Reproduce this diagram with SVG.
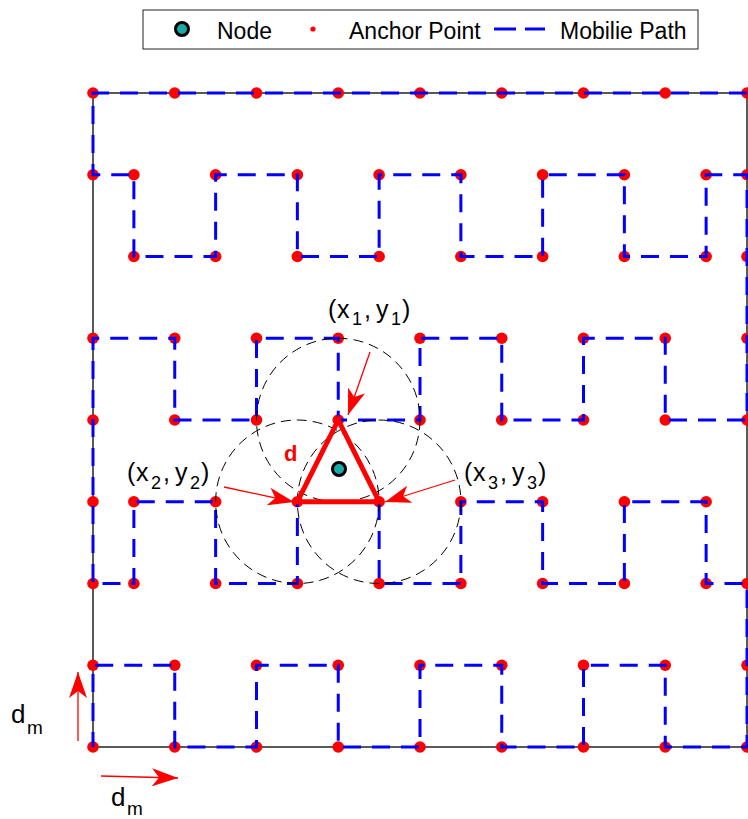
<svg xmlns="http://www.w3.org/2000/svg" width="748" height="819" viewBox="0 0 748 819">
<style>
text{font-family:"Liberation Sans",Arial,sans-serif;fill:#000}
.lg{font-size:23px}
.lb{font-size:25px}
.sb{font-size:18px}
.dm{font-size:26px}
.dms{font-size:19px}
.path{fill:none;stroke:#0000ff;stroke-width:3;stroke-dasharray:18 11}
.circ{fill:none;stroke:#000;stroke-width:1;stroke-dasharray:10 6}
.arr{fill:none;stroke:#ff0000;stroke-width:1.3;marker-end:url(#ah)}
.anc{fill:#ff0000}
</style>
<defs>
<marker id="ah" viewBox="0 0 26 18" refX="26" refY="9" markerWidth="26" markerHeight="18" markerUnits="userSpaceOnUse" orient="auto">
<path d="M26,9 L0,0 L7,9 L0,18 Z" fill="#ff0000"/>
</marker>
<circle id="a" r="5.8"/>
</defs>
<rect width="748" height="819" fill="#fff"/>

<g id="legend">
<rect x="143" y="10" width="555" height="39" fill="#fff" stroke="#222" stroke-width="1"/>
<circle cx="182" cy="29" r="6.5" fill="#1aa9a6" stroke="#000" stroke-width="3"/>
<text class="lg" x="217" y="39">Node</text>
<circle cx="313" cy="29" r="2.6" fill="#ff0000"/>
<text class="lg" x="349" y="39">Anchor Point</text>
<line x1="494" y1="29" x2="545" y2="29" stroke="#0000ff" stroke-width="3" stroke-dasharray="22 9"/>
<text class="lg" x="560" y="39">Mobilie Path</text>
</g>

<g id="axes">
<rect x="93" y="93" width="654" height="654" fill="none" stroke="#000" stroke-width="1.3"/>
</g>

<g id="anchors" class="anc" fill="#ff0000">
<use href="#a" x="93" y="93"/><use href="#a" x="174.75" y="93"/><use href="#a" x="256.5" y="93"/><use href="#a" x="338.25" y="93"/><use href="#a" x="420" y="93"/><use href="#a" x="501.75" y="93"/><use href="#a" x="583.5" y="93"/><use href="#a" x="665.25" y="93"/><use href="#a" x="747" y="93"/>
<use href="#a" x="93" y="174.75"/><use href="#a" x="133.875" y="174.75"/><use href="#a" x="215.625" y="174.75"/><use href="#a" x="297.375" y="174.75"/><use href="#a" x="379.125" y="174.75"/><use href="#a" x="460.875" y="174.75"/><use href="#a" x="542.625" y="174.75"/><use href="#a" x="624.375" y="174.75"/><use href="#a" x="706.125" y="174.75"/><use href="#a" x="747" y="174.75"/>
<use href="#a" x="133.875" y="256.5"/><use href="#a" x="215.625" y="256.5"/><use href="#a" x="297.375" y="256.5"/><use href="#a" x="379.125" y="256.5"/><use href="#a" x="460.875" y="256.5"/><use href="#a" x="542.625" y="256.5"/><use href="#a" x="624.375" y="256.5"/><use href="#a" x="706.125" y="256.5"/><use href="#a" x="747" y="256.5"/>
<use href="#a" x="93" y="338.25"/><use href="#a" x="174.75" y="338.25"/><use href="#a" x="256.5" y="338.25"/><use href="#a" x="338.25" y="338.25"/><use href="#a" x="420" y="338.25"/><use href="#a" x="501.75" y="338.25"/><use href="#a" x="583.5" y="338.25"/><use href="#a" x="665.25" y="338.25"/><use href="#a" x="747" y="338.25"/>
<use href="#a" x="93" y="420"/><use href="#a" x="174.75" y="420"/><use href="#a" x="256.5" y="420"/><use href="#a" x="338.25" y="420"/><use href="#a" x="420" y="420"/><use href="#a" x="501.75" y="420"/><use href="#a" x="583.5" y="420"/><use href="#a" x="665.25" y="420"/><use href="#a" x="747" y="420"/>
<use href="#a" x="93" y="501.75"/><use href="#a" x="133.875" y="501.75"/><use href="#a" x="215.625" y="501.75"/><use href="#a" x="297.375" y="501.75"/><use href="#a" x="379.125" y="501.75"/><use href="#a" x="460.875" y="501.75"/><use href="#a" x="542.625" y="501.75"/><use href="#a" x="624.375" y="501.75"/><use href="#a" x="706.125" y="501.75"/>
<use href="#a" x="93" y="583.5"/><use href="#a" x="133.875" y="583.5"/><use href="#a" x="215.625" y="583.5"/><use href="#a" x="297.375" y="583.5"/><use href="#a" x="379.125" y="583.5"/><use href="#a" x="460.875" y="583.5"/><use href="#a" x="542.625" y="583.5"/><use href="#a" x="624.375" y="583.5"/><use href="#a" x="706.125" y="583.5"/><use href="#a" x="747" y="583.5"/>
<use href="#a" x="93" y="665.25"/><use href="#a" x="174.75" y="665.25"/><use href="#a" x="256.5" y="665.25"/><use href="#a" x="338.25" y="665.25"/><use href="#a" x="420" y="665.25"/><use href="#a" x="501.75" y="665.25"/><use href="#a" x="583.5" y="665.25"/><use href="#a" x="665.25" y="665.25"/><use href="#a" x="747" y="665.25"/>
<use href="#a" x="93" y="747"/><use href="#a" x="174.75" y="747"/><use href="#a" x="256.5" y="747"/><use href="#a" x="338.25" y="747"/><use href="#a" x="420" y="747"/><use href="#a" x="501.75" y="747"/><use href="#a" x="583.5" y="747"/><use href="#a" x="665.25" y="747"/><use href="#a" x="747" y="747"/>
</g>

<g id="mobile-path">
<path class="path" d="M747,93 L93,93 L93,174.75 L133.875,174.75 L133.875,256.5 L215.625,256.5 L215.625,174.75 L297.375,174.75 L297.375,256.5 L379.125,256.5 L379.125,174.75 L460.875,174.75 L460.875,256.5 L542.625,256.5 L542.625,174.75 L624.375,174.75 L624.375,256.5 L706.125,256.5 L706.125,174.75 L747,174.75 L747,420 L665.25,420 L665.25,338.25 L583.5,338.25 L583.5,420 L501.75,420 L501.75,338.25 L420,338.25 L420,420 L338.25,420 L338.25,338.25 L256.5,338.25 L256.5,420 L174.75,420 L174.75,338.25 L93,338.25 L93,583.5 L133.875,583.5 L133.875,501.75 L215.625,501.75 L215.625,583.5 L297.375,583.5 L297.375,501.75 L379.125,501.75 L379.125,583.5 L460.875,583.5 L460.875,501.75 L542.625,501.75 L542.625,583.5 L624.375,583.5 L624.375,501.75 L706.125,501.75 L706.125,583.5 L747,583.5 L747,747 L665.25,747 L665.25,665.25 L583.5,665.25 L583.5,747 L501.75,747 L501.75,665.25 L420,665.25 L420,747 L338.25,747 L338.25,665.25 L256.5,665.25 L256.5,747 L174.75,747 L174.75,665.25 L93,665.25 L93,747"/>
</g>

<g id="range-circles">
<circle class="circ" cx="338.25" cy="420" r="81.75"/>
<circle class="circ" cx="297.375" cy="501.75" r="81.75"/>
<circle class="circ" cx="379.125" cy="501.75" r="81.75"/>
</g>

<g id="triangle">
<path d="M338.25,420 L297.375,501.75 L379.125,501.75 Z" fill="none" stroke="#ff0000" stroke-width="5" stroke-linejoin="miter"/>
<text x="284" y="461" style="font-size:22px;font-weight:bold;fill:#ff0000">d</text>
</g>

<g id="node">
<circle cx="339" cy="469" r="6.5" fill="#1aa9a6" stroke="#000" stroke-width="3"/>
</g>

<g id="connectors">
<path class="arr" d="M370,352 L348,415"/>
<path class="arr" d="M224,487 L294,502"/>
<path class="arr" d="M455,480 L385,502"/>
<path class="arr" d="M78,741 L78,672"/>
<path class="arr" d="M101,776 L178,778"/>
</g>

<g id="labels">
<text class="lb" y="318"><tspan x="328">(</tspan><tspan x="337">x</tspan><tspan class="sb" x="352" y="325">1</tspan><tspan x="364" y="318">,</tspan><tspan x="376">y</tspan><tspan class="sb" x="391" y="325">1</tspan><tspan x="402" y="318">)</tspan></text>
<text class="lb" y="481"><tspan x="127">(</tspan><tspan x="136">x</tspan><tspan class="sb" x="151" y="489">2</tspan><tspan x="163" y="481">,</tspan><tspan x="175">y</tspan><tspan class="sb" x="190" y="489">2</tspan><tspan x="201" y="481">)</tspan></text>
<text class="lb" y="481"><tspan x="464">(</tspan><tspan x="473">x</tspan><tspan class="sb" x="488" y="489">3</tspan><tspan x="500" y="481">,</tspan><tspan x="512">y</tspan><tspan class="sb" x="527" y="489">3</tspan><tspan x="538" y="481">)</tspan></text>
<text class="dm" x="11" y="723">d<tspan class="dms" x="27" y="734">m</tspan></text>
<text class="dm" x="111" y="806">d<tspan class="dms" x="127" y="815">m</tspan></text>
</g>
</svg>
